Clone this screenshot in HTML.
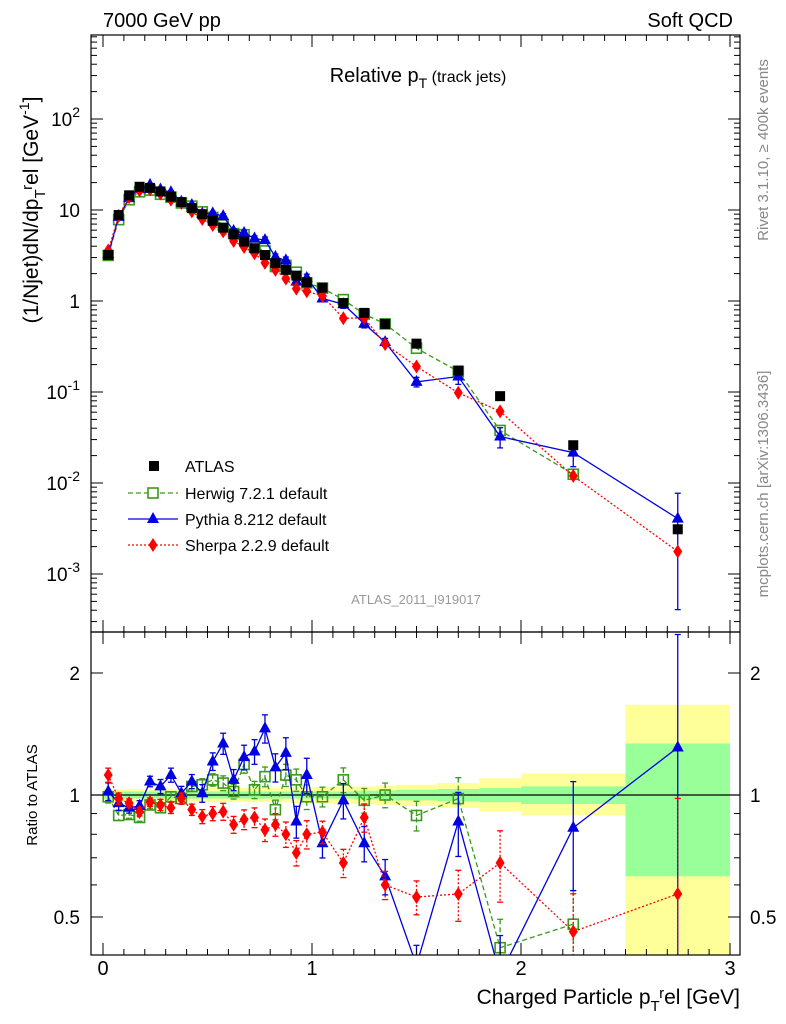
<!DOCTYPE html>
<html><head><meta charset="utf-8"><style>
html,body{margin:0;padding:0;background:#fff;overflow:hidden;width:786px;height:1024px;}
svg{font-family:"Liberation Sans",sans-serif;display:block;}
</style></head><body>
<svg id="c" width="786" height="1024" xmlns="http://www.w3.org/2000/svg"></svg>
<script>
const binLo=[0,0.05,0.1,0.15,0.2,0.25,0.3,0.35,0.4,0.45,0.5,0.55,0.6,0.65,0.7,0.75,0.8,0.85,0.9,0.95,1.0,1.1,1.2,1.3,1.4,1.6,1.8,2.0,2.5];
const binHi=[0.05,0.1,0.15,0.2,0.25,0.3,0.35,0.4,0.45,0.5,0.55,0.6,0.65,0.7,0.75,0.8,0.85,0.9,0.95,1.0,1.1,1.2,1.3,1.4,1.6,1.8,2.0,2.5,3.0];
const atlas=[3.2,8.8,14.5,18,17.5,16,14,12.2,10.5,9.0,7.6,6.4,5.4,4.5,3.8,3.2,2.6,2.2,1.9,1.6,1.4,0.95,0.74,0.56,0.34,0.172,0.09,0.026,0.0031];
const statUp=[0.02,0.02,0.02,0.02,0.02,0.02,0.02,0.02,0.02,0.02,0.02,0.02,0.02,0.02,0.02,0.02,0.02,0.02,0.02,0.02,0.02,0.02,0.025,0.025,0.03,0.035,0.04,0.05,0.34];
const statDn=[0.02,0.02,0.02,0.02,0.02,0.02,0.02,0.02,0.02,0.02,0.02,0.02,0.02,0.02,0.02,0.02,0.02,0.02,0.02,0.02,0.02,0.02,0.025,0.025,0.03,0.035,0.04,0.05,0.37];
const totUp=[0.035,0.035,0.035,0.035,0.035,0.035,0.035,0.035,0.035,0.035,0.04,0.04,0.04,0.04,0.04,0.04,0.04,0.04,0.045,0.045,0.045,0.05,0.05,0.055,0.06,0.07,0.1,0.13,0.67];
const totDn=[0.035,0.035,0.035,0.035,0.035,0.035,0.035,0.035,0.035,0.035,0.04,0.04,0.04,0.04,0.04,0.04,0.04,0.04,0.045,0.045,0.045,0.05,0.05,0.055,0.06,0.07,0.09,0.11,0.99];
const herwigR=[0.99,0.89,0.895,0.88,0.945,0.93,0.99,0.98,1.05,1.06,1.09,1.07,1.02,1.19,1.03,1.11,0.92,1.12,1.09,0.99,0.99,1.09,0.97,1.0,0.89,0.98,0.42,0.48,null];
const pythiaR=[1.02,0.955,0.93,0.94,1.08,1.05,1.12,1.01,1.08,1.01,1.21,1.34,1.09,1.24,1.28,1.46,1.17,1.27,0.86,1.12,0.76,0.97,0.76,0.63,0.38,0.86,0.36,0.83,1.31];
const sherpaR=[1.12,0.98,0.955,0.91,0.96,0.945,0.93,0.98,0.92,0.885,0.90,0.91,0.845,0.87,0.88,0.82,0.845,0.80,0.72,0.80,0.81,0.68,0.88,0.60,0.56,0.57,0.68,0.46,0.57];
const mcErr=[0.05,0.04,0.03,0.03,0.03,0.04,0.04,0.04,0.04,0.05,0.05,0.06,0.06,0.07,0.07,0.08,0.08,0.09,0.09,0.1,0.08,0.1,0.1,0.1,0.12,0.18,0.25,0.3,0.9];

const svg=document.getElementById('c');
const NS='http://www.w3.org/2000/svg';
const L=91,R=740,T=35,M=632,B=955;
const X=v=>103+209*v;
const Y=v=>301-91*Math.log10(v);
const YR=r=>795-122*Math.log2(r);
function el(tag,attrs,parent){const e=document.createElementNS(NS,tag);for(const k in attrs)e.setAttribute(k,attrs[k]);(parent||svg).appendChild(e);return e;}
function txt(s,x,y,size,anchor,fill,parent){const t=el('text',{x:x,y:y,'font-size':size,'text-anchor':anchor||'start',fill:fill||'#000'},parent);t.textContent=s;return t;}

const defs=el('defs',{});
const c1=el('clipPath',{id:'cm'},defs);el('rect',{x:L,y:T,width:R-L,height:M-T},c1);
const c2=el('clipPath',{id:'cr'},defs);el('rect',{x:L,y:M,width:R-L,height:B-M},c2);

const gBand=el('g',{'clip-path':'url(#cr)'});


for(let i=0;i<binLo.length;i++){
  const yt=YR(1+totUp[i]), yb=YR(Math.max(0.01,1-totDn[i]));
  const r1=el('rect',{x:X(binLo[i]),y:yt,width:X(binHi[i])-X(binLo[i]),height:yb-yt,fill:'#ffff99'},gBand);
  
  
  const st=YR(1+statUp[i]), sb=YR(1-statDn[i]);
  const r2=el('rect',{x:X(binLo[i]),y:st,width:X(binHi[i])-X(binLo[i]),height:sb-st,fill:'#99ff99'},gBand);
  
  
}
el('line',{x1:L,x2:R,y1:YR(1),y2:YR(1),stroke:'#000','stroke-width':1.2});

const ctr=binLo.map((v,i)=>(v+binHi[i])/2);
function series(name,vals,yf,clip,color,dash,marker,errs){
  const g=el('g',{'clip-path':clip});
  
  
  let d='',first=true;
  vals.forEach((v,i)=>{if(v==null||isNaN(v))return;d+=(first?'M':'L')+X(ctr[i])+','+yf(v);first=false;});
  el('path',{d:d,fill:'none',stroke:color,'stroke-width':1.3,'stroke-dasharray':dash||'none'},g);
  vals.forEach((v,i)=>{
    if(v==null||isNaN(v))return;
    const x=X(ctr[i]),y=yf(v);
    if(errs){const e=errs[i];el('line',{x1:x,x2:x,y1:yf(v*(1+e)),y2:yf(Math.max(v*(1-e),1e-6)),stroke:color,'stroke-width':1.3,'stroke-dasharray':dash||'none'},g);
      el('line',{x1:x-3,x2:x+3,y1:yf(v*(1+e)),y2:yf(v*(1+e)),stroke:color,'stroke-width':1.3},g);
      el('line',{x1:x-3,x2:x+3,y1:yf(Math.max(v*(1-e),1e-6)),y2:yf(Math.max(v*(1-e),1e-6)),stroke:color,'stroke-width':1.3},g);}
    let m;
    if(marker=='sq')m=el('rect',{x:x-5,y:y-5,width:10,height:10,fill:'none',stroke:color,'stroke-width':1.6},g);
    else if(marker=='tri')m=el('polygon',{points:`${x},${y-7} ${x-6},${y+4} ${x+6},${y+4}`,fill:color},g);
    else if(marker=='dia')m=el('polygon',{points:`${x},${y-7} ${x-4.5},${y} ${x},${y+7} ${x+4.5},${y}`,fill:color},g);
    
    
  });
}
const ga=el('g',{'clip-path':'url(#cm)'});


series('herwig-main',atlas.map((a,i)=>herwigR[i]==null?null:a*herwigR[i]),Y,'url(#cm)','#3a9a1a','5,3','sq',null);
series('pythia-main',atlas.map((a,i)=>a*pythiaR[i]),Y,'url(#cm)','#0000e0',null,'tri',mcErr);
series('sherpa-main',atlas.map((a,i)=>a*sherpaR[i]),Y,'url(#cm)','#ff0000','2,2','dia',null);
svg.appendChild(ga);
atlas.forEach((v,i)=>{const x=X(ctr[i]),y=Y(v);const m=el('rect',{x:x-5,y:y-5,width:10,height:10,fill:'#000'},ga);
  
  });
series('herwig-ratio',herwigR,YR,'url(#cr)','#3a9a1a','5,3','sq',mcErr.map(e=>e*0.7));
series('pythia-ratio',pythiaR,YR,'url(#cr)','#0000e0',null,'tri',mcErr);
series('sherpa-ratio',sherpaR,YR,'url(#cr)','#ff0000','2,2','dia',mcErr.map(e=>e*0.8));

el('rect',{x:L,y:T,width:R-L,height:M-T,fill:'none',stroke:'#000','stroke-width':1.2});
el('rect',{x:L,y:M,width:R-L,height:B-M,fill:'none',stroke:'#000','stroke-width':1.2});
for(let v=0;v<=3.001;v+=0.1){const maj=Math.abs(v-Math.round(v))<1e-6;const x=X(v);const len=maj?12:6;
  [[B,-1],[M,1],[M,-1],[T,1]].forEach(([y,s])=>el('line',{x1:x,x2:x,y1:y,y2:y+s*len,stroke:'#000'}));}
['0','1','2','3'].forEach((s,i)=>{const t=txt(s,X(i),975,20,'middle');});
for(let d=-4;d<=2;d++){for(let k=1;k<10;k++){const v=k*Math.pow(10,d);const y=Y(v);if(y<T||y>M)continue;const len=k==1?12:6;
  el('line',{x1:L,x2:L+len,y1:y,y2:y,stroke:'#000'});el('line',{x1:R,x2:R-len,y1:y,y2:y,stroke:'#000'});}}
[2,1,0,-1,-2,-3].forEach(e=>{const y=Y(Math.pow(10,e))+7;
  let t;
  if(e==0||e==1){t=txt(e==0?'1':'10',80,y,19,'end');}
  else{t=txt('',80,y,19,'end');const a=el('tspan',{},t);a.textContent='10';const s=el('tspan',{dy:-9,'font-size':14},t);s.textContent=String(e);}
  });
[0.5,0.6,0.7,0.8,0.9,1,2].forEach(r=>{const y=YR(r);const len=(r==1||r==2||r==0.5)?12:6;
  el('line',{x1:L,x2:L+len,y1:y,y2:y,stroke:'#000'});el('line',{x1:R,x2:R-len,y1:y,y2:y,stroke:'#000'});});
[['2',2],['1',1],['0.5',0.5]].forEach(([s,r])=>{txt(s,80,YR(r)+7,19,'end');txt(s,750,YR(r)+7,19,'start');});

let t=txt('7000 GeV pp',103,27,20);
t=txt('Soft QCD',733,27,20,'end');
t=txt('',418,82,20,'middle');
t.innerHTML='Relative p<tspan dy="6" font-size="14">T</tspan><tspan dy="-6" font-size="16"> (track jets)</tspan>';
t=txt('ATLAS_2011_I919017',416,604,13,'middle','#999');
t=el('text',{transform:'translate(768,150) rotate(-90)','font-size':15,fill:'#888','text-anchor':'middle'});t.textContent='Rivet 3.1.10, \u2265 400k events';
t=el('text',{transform:'translate(768,484) rotate(-90)','font-size':15,fill:'#888','text-anchor':'middle'});t.textContent='mcplots.cern.ch [arXiv:1306.3436]';
t=el('text',{transform:'translate(38,210) rotate(-90)','font-size':21,'text-anchor':'middle'});
t.innerHTML='(1/Njet)dN/dp<tspan dy="7" font-size="15">T</tspan><tspan dy="-13" font-size="15">r</tspan><tspan dy="6">el [GeV</tspan><tspan dy="-9" font-size="14">-1</tspan><tspan dy="9">]</tspan>';

t=el('text',{transform:'translate(37,795) rotate(-90)','font-size':15,'text-anchor':'middle'});t.textContent='Ratio to ATLAS';
t=txt('',740,1004,21,'end');t.innerHTML='Charged Particle p<tspan dy="7" font-size="15">T</tspan><tspan dy="-13" font-size="15">r</tspan><tspan dy="6">el [GeV]</tspan>';


const lg=el('g',{});
const ly=[466,493,519,545];
el('rect',{x:149,y:ly[0]-5,width:10,height:10,fill:'#000'},lg);txt('ATLAS',185,ly[0]+6,16,'start','#000',lg);
el('line',{x1:128,x2:178,y1:ly[1],y2:ly[1],stroke:'#3a9a1a','stroke-dasharray':'5,3','stroke-width':1.3},lg);
el('rect',{x:148,y:ly[1]-5,width:10,height:10,fill:'#fff',stroke:'#3a9a1a','stroke-width':1.6},lg);txt('Herwig 7.2.1 default',185,ly[1]+6,16,'start','#000',lg);
el('line',{x1:128,x2:178,y1:ly[2],y2:ly[2],stroke:'#0000e0','stroke-width':1.3},lg);
el('polygon',{points:`153,${ly[2]-7} 147,${ly[2]+4} 159,${ly[2]+4}`,fill:'#0000e0'},lg);txt('Pythia 8.212 default',185,ly[2]+6,16,'start','#000',lg);
el('line',{x1:128,x2:178,y1:ly[3],y2:ly[3],stroke:'#ff0000','stroke-dasharray':'2,2','stroke-width':1.3},lg);
el('polygon',{points:`153,${ly[3]-7} 148.5,${ly[3]} 153,${ly[3]+7} 157.5,${ly[3]}`,fill:'#ff0000'},lg);txt('Sherpa 2.2.9 default',185,ly[3]+6,16,'start','#000',lg);
</script>
</body></html>
